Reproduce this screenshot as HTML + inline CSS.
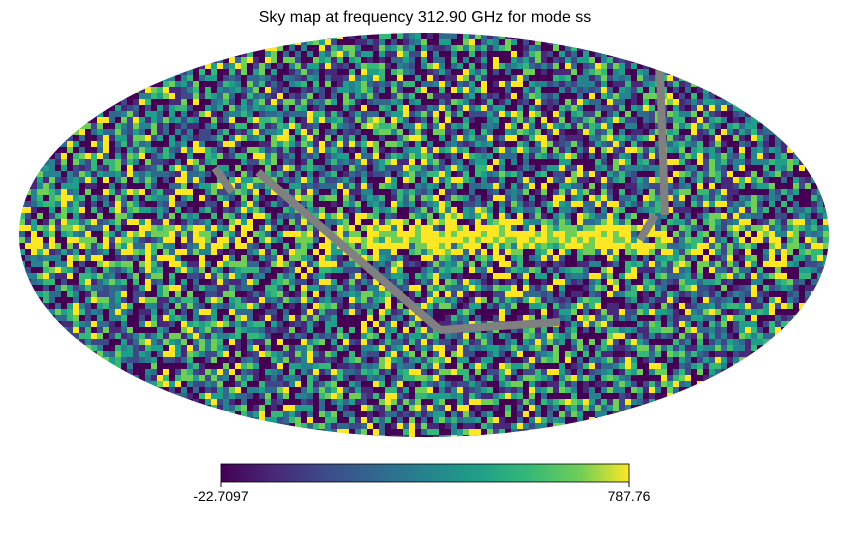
<!DOCTYPE html>
<html><head><meta charset="utf-8"><style>
body{margin:0;background:#fff;}
svg{display:block;font-family:"Liberation Sans","DejaVu Sans",sans-serif;}
</style></head><body>
<svg id="chart" width="850" height="540" viewBox="0 0 850 540">
<defs>
<clipPath id="moll"><ellipse cx="424" cy="235" rx="405" ry="202"/></clipPath>
<linearGradient id="vir" x1="0" x2="1" y1="0" y2="0">
<stop offset="0" stop-color="#440154"/><stop offset="0.13" stop-color="#482878"/><stop offset="0.25" stop-color="#3e4989"/><stop offset="0.38" stop-color="#31688e"/><stop offset="0.5" stop-color="#26828e"/><stop offset="0.63" stop-color="#1f9e89"/><stop offset="0.75" stop-color="#35b779"/><stop offset="0.88" stop-color="#6ece58"/><stop offset="1" stop-color="#fde725"/>
</linearGradient>
</defs>
<text x="425" y="22" text-anchor="middle" font-size="16" fill="#000">Sky map at frequency 312.90 GHz for mode ss</text>
<g id="map" clip-path="url(#moll)">
<ellipse cx="424" cy="235" rx="405" ry="202" fill="#2f5f7e"/>
</g>
<rect x="221" y="464" width="408" height="18" fill="url(#vir)" stroke="#000" stroke-width="0.8"/>
<line x1="221" y1="482" x2="221" y2="487" stroke="#000"/>
<line x1="629" y1="482" x2="629" y2="487" stroke="#000"/>
<text id="lmin" x="221" y="501" text-anchor="middle" font-size="14"></text>
<text id="lmax" x="629" y="501" text-anchor="middle" font-size="14"></text>
</svg>
<script>
const rangeLabels = ["-22.7097", "787.76"];
// estimated band brightness (0..1) of the galactic plane along longitude bins, left to right
const bandLon = [0.3,0.4,0.6,0.6,0.4,0.3,0.3,0.4,0.8,0.95,1,1,1,1,0.9,0.5,0.3,0.3,0.35,0.3];
// gray (unobserved) stripes as segments in map coords
const grayStripes = [[258,172,440,330],[440,330,560,322],[215,168,232,192],[660,70,665,215],[655,215,640,240]];
const palette = ["#440154","#440154","#482878","#3e4989","#31688e","#26828e","#1f9e89","#35b779","#6ece58","#fde725"];
document.getElementById('lmin').textContent = rangeLabels[0];
document.getElementById('lmax').textContent = rangeLabels[1];
const g = document.getElementById('map');
const NS = "http://www.w3.org/2000/svg";
function h(i,j){let n=(i*374761393+j*668265263)>>>0;n=((n^(n>>>13))*1274126177)>>>0;return ((n^(n>>>16))>>>0)/4294967296;}
const cs = 6;
let frag = document.createDocumentFragment();
for (let y=33; y<438; y+=cs){
  for (let x=19; x<830; x+=cs){
    const dx=(x+cs/2-424)/405, dy=(y+cs/2-235)/202;
    if (dx*dx+dy*dy>1.05) continue;
    let r = h(x,y);
    const bi = Math.min(bandLon.length-1, Math.floor((x-19)/811*bandLon.length));
    const bandW = Math.exp(-Math.pow((y-235)/16,2));
    let v = Math.floor(Math.pow(r,1.15)*10);
    if (h(y,x) < bandLon[bi]*bandW*1.1) v = 9 - Math.floor(h(x+1,y)*1.5);
    const c = document.createElementNS(NS,'rect');
    c.setAttribute('x',x); c.setAttribute('y',y);
    c.setAttribute('width',cs); c.setAttribute('height',cs);
    c.setAttribute('fill',palette[Math.max(0,Math.min(9,v))]);
    
    
    frag.appendChild(c);
  }
}
g.appendChild(frag);
grayStripes.forEach(s=>{
  const l=document.createElementNS(NS,'line');
  l.setAttribute('x1',s[0]);l.setAttribute('y1',s[1]);l.setAttribute('x2',s[2]);l.setAttribute('y2',s[3]);
  l.setAttribute('stroke','#808080');l.setAttribute('stroke-width','8');
  
  
  g.appendChild(l);
});
</script>
</body></html>
